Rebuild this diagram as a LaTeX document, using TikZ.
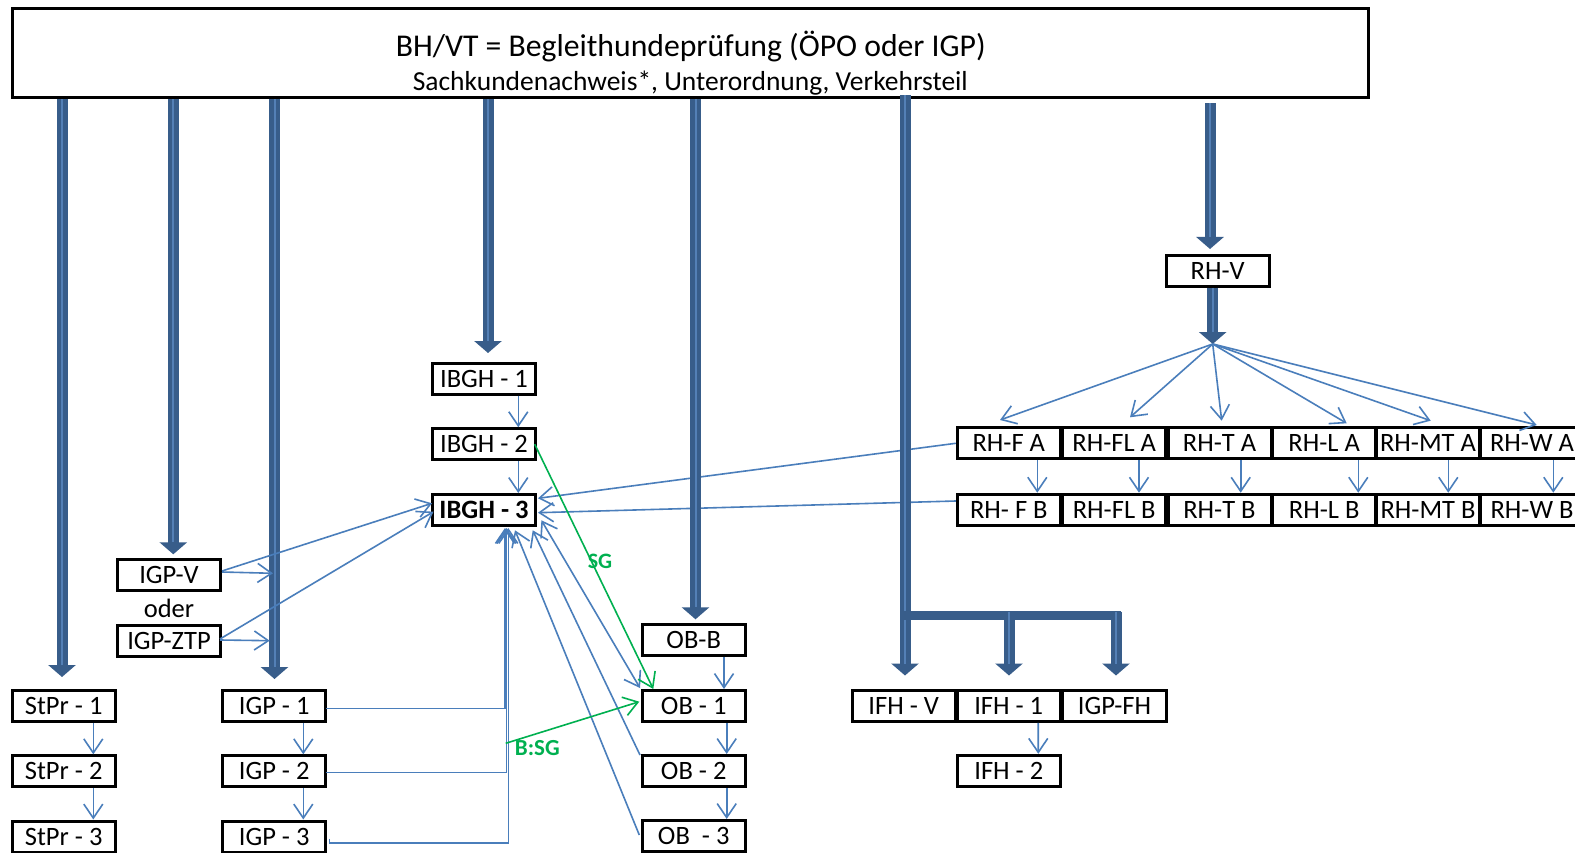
\documentclass[tikz,border=0pt]{standalone}
\usepackage{fontspec}
\setmainfont{Carlito}
\usetikzlibrary{arrows.meta,calc}
\definecolor{thickblue}{RGB}{56,93,138}
\definecolor{thinblue}{RGB}{74,126,187}
\definecolor{stripeblue}{RGB}{84,128,182}
\definecolor{sggreen}{RGB}{0,176,80}
\newcommand\labfont{\fontsize{26.5}{30}\selectfont}
\newcommand\bigarr[2]{\draw[big] (#1) -- (#2); \draw[bigstripe] (#1) -- (#2);}
\begin{document}
\begin{tikzpicture}[x=1pt,y=-1pt,
  vtip/.tip={Straight Barb[length=14pt,width=19pt]},
  box/.style={draw=black, line width=3pt, fill=white, minimum width=103pt, minimum height=31pt, inner sep=0pt, font=\labfont},
  big/.style={draw=thickblue, line width=11pt, -{Triangle[width=27pt,length=12pt]}},
  bigstripe/.style={draw=stripeblue, line width=2pt, shorten >=12pt, xshift=-1pt},
  tarr/.style={draw=thinblue, line width=1.6pt, -vtip},
  sgline/.style={draw=sggreen, line width=1.6pt, -vtip},
  glab/.style={text=sggreen, font=\fontsize{22}{24}\selectfont\bfseries, inner sep=0pt}]
\useasboundingbox (0,0) rectangle (1575,853);
\clip (0,0) rectangle (1575,853);
\fill[white] (0,0) rectangle (1575,853);

% ---------- boxes ----------
\node[box, minimum width=1356pt, minimum height=88.7pt] (top) at (690.3,53.2) {};
\node[anchor=base, font=\fontsize{31.7}{36}\selectfont, inner sep=0pt] (title) at (690.8,57) {BH/VT = Begleithundeprüfung (ÖPO oder IGP)};
\node[anchor=base, font=\fontsize{27.5}{30}\selectfont, inner sep=0pt] (sub) at (690.3,91) {Sachkundenachweis*, Unterordnung, Verkehrsteil};

\node[box] (rhv) at (1217.7,270.7) {RH-V};
\node[box] (ibgh1) at (484,378.7) {IBGH - 1};
\node[box] (ibgh2) at (484,444.2) {IBGH - 2};
\node[box, font=\labfont\bfseries] (ibgh3) at (484,510) {IBGH - 3};
\node[box] (igpv) at (169,575) {IGP-V};
\node[font=\labfont, anchor=base, inner sep=0pt] (oder) at (169,617) {oder};
\node[box] (igpztp) at (169,641) {IGP-ZTP};
\node[box] (stpr1) at (63.7,706) {StPr - 1};
\node[box] (stpr2) at (63.7,771.3) {StPr - 2};
\node[box] (stpr3) at (63.7,836.5) {StPr - 3};
\node[box] (igp1) at (274.2,706) {IGP - 1};
\node[box] (igp2) at (274.2,771.3) {IGP - 2};
\node[box] (igp3) at (274.2,836.5) {IGP - 3};
\node[box] (obb) at (693.7,640.3) {OB-B};
\node[box] (ob1) at (693.7,706) {OB - 1};
\node[box] (ob2) at (693.7,771) {OB - 2};
\node[box] (ob3) at (693.7,836) {OB~ - 3};
\node[box] (ifhv) at (903.7,705.8) {IFH - V};
\node[box] (ifh1) at (1008.7,705.8) {IFH - 1};
\node[box, minimum width=104.6pt] (igpfh) at (1114.5,705.8) {IGP-FH};
\node[box] (ifh2) at (1008.8,770.8) {IFH - 2};
\node[box] (rhfa) at (1008.8,443.3) {RH-F A};
\node[box] (rhfla) at (1114.2,443.3) {RH-FL A};
\node[box] (rhta) at (1219.5,443.3) {RH-T A};
\node[box] (rhla) at (1324.2,443.3) {RH-L A};
\node[box] (rhmta) at (1428,443.3) {RH-MT A};
\node[box] (rhwa) at (1532,443.3) {RH-W A};
\node[box] (rhfb) at (1008.8,509.7) {RH- F B};
\node[box] (rhflb) at (1114.2,509.7) {RH-FL B};
\node[box] (rhtb) at (1219.5,509.7) {RH-T B};
\node[box] (rhlb) at (1324.2,509.7) {RH-L B};
\node[box] (rhmtb) at (1428,509.7) {RH-MT B};
\node[box] (rhwb) at (1532,509.7) {RH-W B};

% ---------- long thin lines under the thick arrows ----------
\draw[tarr] (rhfa.west) -- ($(ibgh3.east)+(1,-11.7)$);
\draw[tarr] ($(rhfb.west)+(0,-8.7)$) -- ($(ibgh3.east)+(1,2.7)$);

% ---------- thick arrows ----------
\coordinate (a1) at ($(stpr1.north)+(-1.7,-12)$);
\coordinate (a2) at ($(igpv.north)+(4.3,-3.7)$);
\coordinate (a3) at ($(igp1.north)+(0.3,-10)$);
\coordinate (a4) at ($(ibgh1.north)+(4,-8.7)$);
\coordinate (a5) at ($(obb.north)+(1.8,-4)$);
\coordinate (a6) at ($(ifhv.north)+(1.3,-13.3)$);
\coordinate (a7) at ($(rhv.north)+(-7.7,-4.7)$);
\coordinate (fan) at ($(rhv.south)+(-5,56.3)$);
\bigarr{top.south -| a1}{a1}
\bigarr{top.south -| a2}{a2}
\bigarr{top.south -| a3}{a3}
\bigarr{top.south -| a4}{a4}
\bigarr{top.south -| a5}{a5}
\bigarr{$(top.south -| a6)+(0,-4)$}{a6}
\bigarr{$(top.south -| a7)+(0,4)$}{a7}
\bigarr{rhv.south -| fan}{fan}
% IFH branch
\coordinate (b1) at ($(ifh1.north)+(0.3,-13.3)$);
\coordinate (b2) at ($(igpfh.north)+(1.5,-13.3)$);
\coordinate (bj) at ($(a6)+(-2,-60)$);
\draw[draw=thickblue, line width=9pt] (bj) -- ($(b2 |- bj)+(5,0)$);
\bigarr{$(b1 |- bj)+(0,-4)$}{b1}
\bigarr{$(b2 |- bj)+(0,-4)$}{b2}

% ---------- short thin arrows ----------
\foreach \a/\b/\dx in {stpr1/stpr2/29.6, stpr2/stpr3/29.6, igp1/igp2/29.1, igp2/igp3/29.1,
  ibgh1/ibgh2/34.3, ibgh2/ibgh3/34.3, obb/ob1/30.3, ob1/ob2/33, ob2/ob3/33, ifh1/ifh2/29.5,
  rhfa/rhfb/28.5, rhfla/rhflb/24.8, rhta/rhtb/21.2, rhla/rhlb/34.1, rhmta/rhmtb/20.3, rhwa/rhwb/21.3}
  \draw[tarr] ($(\a.south)+(\dx,0)$) -- ($(\b.north)+(\dx,0)$);

% fan from RH-V
\foreach \n/\dx/\dy in {rhfa/-8.8/-6.3, rhfla/15.8/-9, rhta/2.2/-5.6, rhla/22.5/-3, rhmta/2.7/-5.6, rhwa/4.7/-1.3}
  \draw[tarr] (fan) -- ($(\n.north)+(\dx,\dy)$);

% IGP-V / IGP-ZTP
\draw[tarr] ($(igpv.east)+(0,-4)$) -- ($(ibgh3.west)+(1,-6.7)$);
\draw[tarr] ($(igpv.east)+(0,-3)$) -- ($(igpv.east)+(51,-1.7)$);
\draw[tarr] ($(igpztp.east)+(-2,-2)$) -- ($(ibgh3.west)+(2.5,1.7)$);
\draw[tarr] ($(igpztp.east)+(-2,-1)$) -- ($(igpztp.east)+(47.7,-0.3)$);

% IGP 1-3 to IBGH-3
\draw[tarr] ($(igp1.east)+(-1,2.3)$) -| ($(ibgh3.south)+(21,1)$);
\draw[tarr] ($(igp2.east)+(-1,1)$) -| ($(ibgh3.south)+(22.5,1)$);
\draw[tarr] ($(igp3.east)+(2.3,2)$) -- ++(0,4.2) -| ($(ibgh3.south)+(24.3,1)$);

% OB to IBGH-3
\draw[tarr, vtip-vtip] ($(ibgh3.south east)+(4.4,-6.7)$) -- ($(ob1.north west)+(-0.7,-1)$);
\draw[tarr] ($(ob2.north west)+(-0.7,1)$) -- ($(ibgh3.south east)+(-4.3,3.3)$);
\draw[tarr] ($(ob3.west)+(-1.4,-1)$) -- ($(ibgh3.south)+(31,3.3)$);

% green
\draw[sgline] ($(ibgh2.east)+(-2.3,0)$) -- ($(ob1.north west)+(12.6,0)$);
\node[glab] (sg) at (600,561) {SG};
\coordinate (bsg) at (505.7,743.3);
\draw[sgline] (bsg) -- ($(ob1.west)+(-1.4,-4.3)$);
\node[glab, font=\fontsize{23}{26}\selectfont\bfseries] (bsglab) at (537.3,748.3) {B:SG};
\end{tikzpicture}
\end{document}
